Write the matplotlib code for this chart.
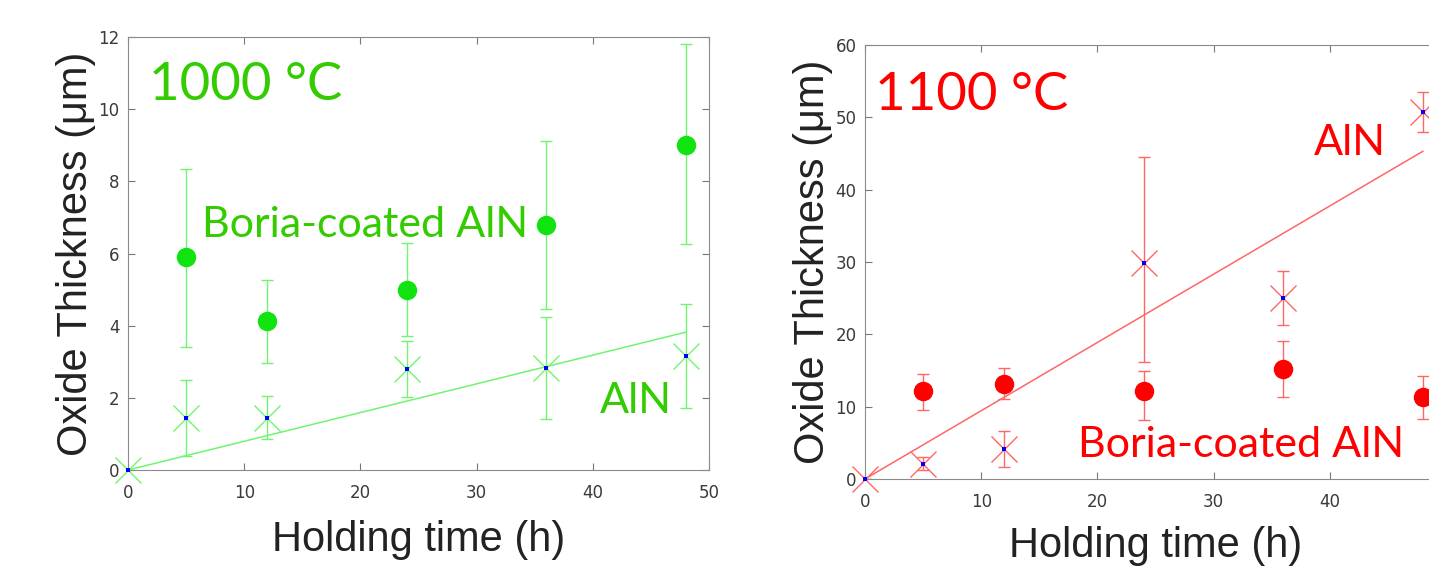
import numpy as np
import matplotlib.pyplot as plt

# 1000 C panel
t_b1 = [5, 12, 24, 36, 48]
boria_1000 = [5.9, 4.12, 5.0, 6.8, 9.0]
boria_1000_lo = [3.4, 2.97, 3.7, 4.45, 6.25]
boria_1000_hi = [8.35, 5.27, 6.3, 9.12, 11.8]
t_a = [0, 5, 12, 24, 36, 48]
aln_1000 = [0, 1.45, 1.45, 2.8, 2.82, 3.15]
aln_1000_lo = [0, 0.4, 0.85, 2.02, 1.42, 1.72]
aln_1000_hi = [0, 2.5, 2.05, 3.57, 4.23, 4.6]
fit_1000 = [0, 3.82]

# 1100 C panel
boria_1100 = [12.1, 13.1, 12.2, 15.2, 11.3]
boria_1100_lo = [9.6, 11.1, 8.2, 11.3, 8.3]
boria_1100_hi = [14.5, 15.3, 15.0, 19.1, 14.3]
aln_1100 = [0, 2.1, 4.2, 29.8, 25.0, 50.8]
aln_1100_lo = [0, 1.2, 1.7, 16.2, 21.3, 48.0]
aln_1100_hi = [0, 3.0, 6.7, 44.5, 28.8, 53.5]
fit_1100 = [0, 45.3]
t_fit = [0, 48]

W, H = 1429, 582
fig = plt.figure(figsize=(W/100, H/100), dpi=100)

def panel(rect, yb, ylo, yhi, ya, alo, ahi, fit, ymax, mk, lt, tc, txt, last_lbl, xpad):
    ax = fig.add_axes(rect)
    yb = np.array(yb); ya = np.array(ya)
    ax.errorbar(t_b1, yb, yerr=[yb-np.array(ylo), np.array(yhi)-yb], fmt='none',
                ecolor=lt, elinewidth=1, capsize=4.5, capthick=1, zorder=2)
    ax.errorbar(t_a, ya, yerr=[ya-np.array(alo), np.array(ahi)-ya], fmt='none',
                ecolor=lt, elinewidth=1, capsize=4.5, capthick=1, zorder=2)
    ax.plot(t_fit, fit, color=lt, lw=1.1, zorder=3)
    ax.plot(t_b1, yb, 'o', color=mk, ms=13, mec=mk, zorder=4)
    ax.plot(t_a, ya, 'x', color=lt, ms=19, mew=1, zorder=4, clip_on=False)
    ax.plot(t_a, ya, 's', color='#0000ff', ms=2.5, mew=0, zorder=5, clip_on=False)
    ax.set_xlim(0, 50)
    ax.set_ylim(0, ymax)
    ax.set_xticks(range(0, 51, 10))
    ax.set_xticklabels([str(v) for v in range(0, 41, 10)] + [last_lbl])
    ax.tick_params(direction='in', top=True, right=True, labelsize=12,
                   labelcolor='#3a3a3a', color='#777777', length=5)
    ax.tick_params(axis='x', pad=10)
    ax.tick_params(axis='y', pad=6)
    for s in ax.spines.values():
        s.set_color('#8a8a8a')
    ax.set_xlabel('Holding time (h)', fontsize=30, color='#222222', labelpad=xpad,
                  family='Liberation Sans')
    ax.set_ylabel('Oxide Thickness (\u03bcm)', fontsize=30, color='#222222',
                  labelpad=2, family='Liberation Sans')
    for (x, y, s, fs) in txt:
        ax.text(x, y, s, color=tc, fontsize=fs, va='baseline', ha='left',
                family='Lato')
    return ax

panel([128/W, 1-470/H, 581/W, 433/H], boria_1000, boria_1000_lo, boria_1000_hi,
      aln_1000, aln_1000_lo, aln_1000_hi, fit_1000, 12,
      '#11e311', '#70f570', '#33cc00',
      [(1.8, 10.25, '1000 \u00b0C', 38), (6.4, 6.45, 'Boria-coated AlN', 31),
       (40.6, 1.58, 'AlN', 31)], '50', 13)
panel([865/W, 1-479/H, 581/W, 434/H], boria_1100, boria_1100_lo, boria_1100_hi,
      aln_1100, aln_1100_lo, aln_1100_hi, fit_1100, 60,
      '#ff0000', '#ff6666', '#ff0000',
      [(0.9, 51.0, '1100 \u00b0C', 38), (38.6, 44.8, 'AlN', 31),
       (18.3, 3.04, 'Boria-coated AlN', 31)], '', 11)

fig.savefig('out.png', dpi=100)
